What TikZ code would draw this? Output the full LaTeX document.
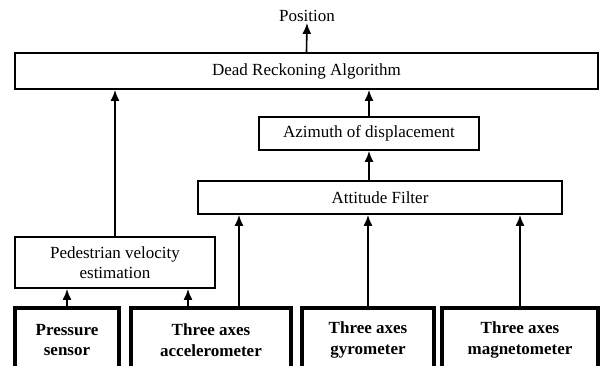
\documentclass[tikz,border=0pt]{standalone}
\usepackage{fontspec}
\setmainfont{Liberation Serif}
\usetikzlibrary{arrows.meta}
\tikzstyle{block} = [rectangle,
inner sep=0pt,
minimum height=33pt,
text centered,
line width=1.8pt,
draw=black,
font=\fontsize{17}{20}\selectfont]
\tikzstyle{sensor} = [rectangle,
inner sep=0pt,
minimum height=64pt,
text centered,
line width=4.4pt,
draw=black,
align=center,
font=\fontsize{17}{20.5}\selectfont\bfseries]
\tikzstyle{arrow} = [line width=1.6pt, -{Latex[length=11pt,width=9pt]}]

\begin{document}
\begin{tikzpicture}[x=1pt,y=-1pt]
			\useasboundingbox (0,0) rectangle (600,365);
			% blocks
			\node (pos) [inner sep=1pt, font=\fontsize{17}{20}\selectfont] at (307,16) {Position};
			\node (dra) [block, minimum width=583pt, minimum height=36pt] at (306.5,71) {Dead Reckoning Algorithm};
			\node (azim) [block, minimum width=220pt] at (369,133.5) {Azimuth of displacement};
			\node (att) [block, minimum width=364pt] at (380,197.5) {Attitude Filter};
			\node (ped) [block, minimum width=200pt, minimum height=51pt, align=center] at (115,262.5) {Pedestrian velocity\\estimation};
			% sensors
			\node (pres) [sensor, minimum width=104pt] at (67,340) {Pressure\\sensor};
			\node (acc) [sensor, minimum width=160pt] at (211,340) {Three axes\\accelerometer};
			\node (gyro) [sensor, minimum width=132pt] at (368,340) {Three axes\\gyrometer};
			\node (mag) [sensor, minimum width=156pt] at (520,340) {Three axes\\magnetometer};

			\draw[arrow] (dra.north) -- (pos.south);
			\draw[arrow] (ped.north) -- (ped.north |- dra.south);
			\draw[arrow] (azim.north) -- (azim.north |- dra.south);
			\draw[arrow] (azim.south |- att.north) -- (azim.south);
			\draw[arrow] ([xshift=28pt]acc.north) -- ([xshift=28pt]acc.north |- att.south);
			\draw[arrow] (gyro.north) -- (gyro.north |- att.south);
			\draw[arrow] (mag.north) -- (mag.north |- att.south);
			\draw[arrow] (pres.north) -- (pres.north |- ped.south);
			\draw[arrow] ([xshift=-23pt]acc.north) -- ([xshift=-23pt]acc.north |- ped.south);
		\end{tikzpicture}
\end{document}
